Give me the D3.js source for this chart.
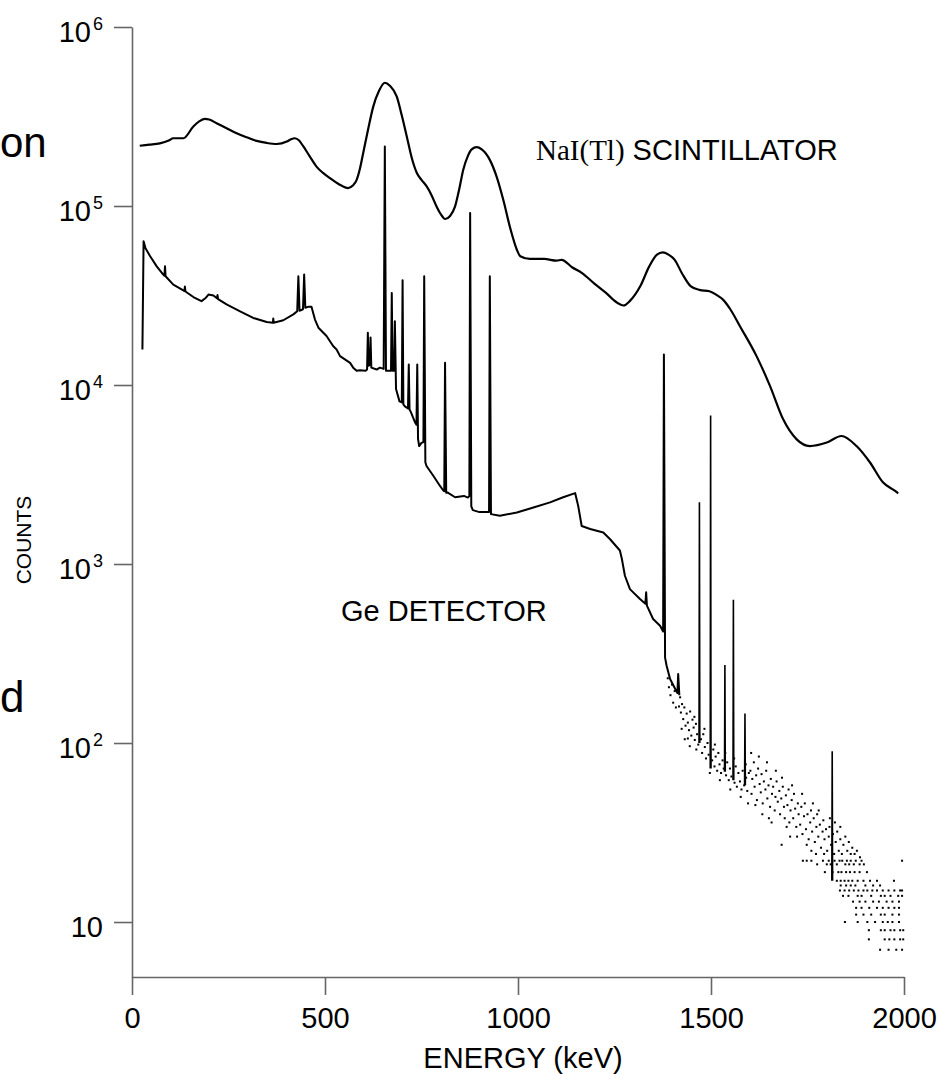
<!DOCTYPE html>
<html>
<head>
<meta charset="utf-8">
<script src="https://cdn.jsdelivr.net/npm/d3@7"></script>
<style>
  body { margin: 0; background: #fff; }
  text { font-family: 'Liberation Sans', Arial, sans-serif; fill: #000; }
</style>
</head>
<body>
<svg id="chart" width="938" height="1075"></svg>
<script>
// NaI(Tl) spectrum [keV, counts]
const naiSpectrum = [
  [20, 217000], [45, 220000], [72, 224000], [95, 232000], [107, 239000], [133, 239000],
  [159, 278000], [175, 298000], [189, 307000], [200, 304000], [219, 290000], [245, 272000],
  [271, 255000], [297, 242000], [323, 231000], [349, 225000], [375, 222000], [401, 229000],
  [412, 236000], [422, 239000], [433, 232000], [444, 215000], [460, 190000], [478, 166000],
  [495, 153000], [513, 143000], [537, 132000], [560, 126000], [572, 130000], [582, 140000],
  [590, 160000], [599, 198000], [612, 270000], [625, 359000], [640, 440000], [655, 488000],
  [668, 470000], [686, 408000], [699, 320000], [712, 244000], [725, 185000], [738, 153000],
  [750, 140000], [763, 129000], [776, 115000], [789, 99500], [800, 90000], [811, 84600],
  [824, 88000], [837, 99500], [848, 125000], [858, 159000], [870, 190000], [880, 207000],
  [893, 213000], [906, 207000], [927, 181000], [945, 145000], [962, 108000], [980, 75000],
  [997, 57000], [1006, 52400], [1031, 50600], [1068, 50600], [1100, 49500], [1113, 50000],
  [1140, 45500], [1166, 42200], [1197, 37000], [1228, 32700], [1255, 29000], [1273, 27800],
  [1290, 29500], [1317, 35700], [1340, 46000], [1360, 53500], [1375, 55100], [1390, 53500],
  [1406, 50000], [1425, 42000], [1447, 35700], [1470, 34000], [1496, 33400], [1515, 31800],
  [1531, 30000], [1550, 26500], [1575, 21300], [1618, 14500], [1653, 9860], [1687, 6430],
  [1722, 4970], [1756, 4560], [1800, 4770], [1838, 5190], [1877, 4560], [1912, 3690],
  [1946, 2850], [1977, 2560], [1985, 2480]
]

// Ge spectrum, continuum with its peaks [keV, counts]
const geSpectrum = [
  [27, 15800], [30, 63500], [35, 58000], [47, 52400], [64, 46000], [81, 41400], [84, 40800],
  [85.5, 46000], [87, 40500], [107, 36400], [133, 33800], [136, 33500], [137, 35500],
  [138.5, 33300], [159, 31000], [180, 29400], [190, 30500], [198, 32000], [211, 31600],
  [220, 30500], [221.5, 31800], [223, 30200], [245, 28200], [280, 25800], [314, 23700],
  [349, 22500], [365, 22300], [366, 23500], [367, 22300], [392, 23000], [418, 24800],
  [428, 25800], [431, 40500], [434, 26000], [443, 26500], [446, 41400], [449, 27000],
  [458, 27400], [465, 27400], [474, 23200], [483, 20900], [504, 18800], [521, 16500],
  [530, 15800], [539, 14500], [565, 13300], [573, 12500], [582, 12000], [591, 12100],
  [605, 12000], [609, 12200], [611, 19600], [613, 12800], [616, 13000], [618, 18400],
  [620, 12500], [634, 12200], [642, 12500], [652, 12300], [655, 215000], [658, 12000],
  [662, 12000], [671, 12000], [673, 32700], [675, 12000], [679, 12000], [681, 22700],
  [684, 9500], [693, 8100], [699, 8000], [701, 38500], [703, 7800], [707, 7600], [715, 7400],
  [717, 13000], [719, 7300], [722, 7100], [733, 6200], [737, 6000], [739, 13000], [741, 5000],
  [744, 4560], [750, 4750], [755, 4800], [757, 40500], [760, 3700], [763, 3530], [781, 3100],
  [798, 2730], [805, 2600], [809, 2550], [811, 13300], [814, 2500], [817, 2510], [837, 2360],
  [860, 2400], [870, 2350], [874, 2400], [876, 91400], [879, 2100], [883, 2000], [900, 1950],
  [920, 1950], [925, 1950], [927, 40500], [930, 1900], [953, 1860], [997, 1940], [1040, 2070],
  [1083, 2210], [1117, 2360], [1148, 2490], [1156, 2110], [1165, 1630], [1187, 1570],
  [1221, 1500], [1238, 1380], [1264, 1190], [1269, 1070], [1277, 860], [1290, 724],
  [1316, 637], [1330, 600], [1332, 695], [1334, 585], [1350, 493], [1368, 452], [1376, 420],
  [1378, 14800], [1381, 300], [1385, 270], [1394, 228], [1405, 205], [1413, 190], [1415, 243],
  [1418, 185]
]

// isolated Ge lines above 1450 keV
const gePeakE = [1470, 1499, 1536, 1558, 1588, 1814]
const gePeakTop = [2210, 6760, 273, 631, 146, 90]
const gePeakBase = [100, 72, 69, 62, 58, 17]

// sparse high-energy Ge channels [keV, counts]
const geScatter = [
  [1388, 230], [1391, 205], [1395, 185], [1399, 212], [1402, 168], [1406, 195], [1409, 158],
  [1415, 200], [1417, 160], [1420, 180], [1422, 148], [1424, 120], [1425, 165], [1428, 136],
  [1431, 158], [1432, 105], [1434, 125], [1437, 146], [1440, 130], [1440, 106], [1443, 118],
  [1445, 96], [1446, 150], [1449, 110], [1452, 135], [1455, 122], [1457, 140], [1458, 104],
  [1461, 128], [1462, 92], [1464, 112], [1467, 98],
  [1474, 105], [1477, 88], [1480, 112], [1483, 120], [1484, 95], [1487, 82], [1491, 100],
  [1494, 86], [1497, 68], [1503, 80], [1506, 92], [1509, 74], [1510, 98], [1512, 84],
  [1516, 70], [1519, 88], [1522, 76], [1523, 62], [1526, 68], [1530, 80], [1533, 72],
  [1537, 88], [1539, 66], [1542, 78], [1546, 62], [1549, 72], [1550, 55], [1553, 65],
  [1560, 82], [1561, 60], [1564, 74], [1567, 57], [1571, 68], [1575, 61], [1577, 50],
  [1579, 55], [1582, 70], [1586, 58], [1590, 76], [1591, 64], [1594, 54], [1596, 46],
  [1598, 68],
  [1602, 70], [1604, 88], [1605, 52], [1607, 63], [1611, 78], [1613, 57], [1615, 45],
  [1617, 66], [1619, 48], [1622, 72], [1624, 84], [1626, 59], [1629, 53], [1631, 67],
  [1633, 40], [1634, 46], [1637, 61], [1641, 55], [1643, 70], [1645, 78], [1646, 49],
  [1649, 58], [1650, 38], [1653, 44], [1655, 63], [1657, 36], [1658, 52], [1661, 57],
  [1665, 42], [1667, 50], [1668, 70], [1670, 61], [1673, 47], [1677, 54], [1679, 40],
  [1682, 49], [1683, 27], [1684, 64], [1686, 57], [1689, 44], [1691, 38], [1694, 51],
  [1696, 34], [1698, 45], [1701, 55], [1703, 36], [1705, 30], [1706, 42], [1709, 48],
  [1710, 58], [1713, 38], [1715, 52], [1718, 43], [1721, 34], [1723, 30], [1725, 46],
  [1727, 40], [1731, 35], [1734, 44], [1736, 52], [1737, 31], [1738, 22], [1741, 39],
  [1743, 46], [1746, 33], [1748, 27], [1750, 40], [1753, 29], [1757, 36], [1759, 42],
  [1760, 25], [1762, 32], [1764, 46], [1766, 38], [1769, 28], [1772, 24], [1773, 34],
  [1775, 40], [1778, 30], [1779, 42], [1782, 35], [1785, 26], [1789, 32], [1791, 37],
  [1793, 24], [1794, 29], [1798, 33], [1801, 25], [1805, 30], [1807, 34], [1808, 38],
  [1811, 27], [1816, 31], [1819, 24], [1821, 36], [1823, 28], [1827, 32], [1831, 25],
  [1835, 29], [1835, 34], [1839, 24], [1843, 27], [1848, 30], [1853, 25], [1857, 28],
  [1862, 24], [1866, 26], [1872, 24], [1878, 25], [1886, 23],
  [1748, 22], [1760, 22], [1790, 22], [1805, 22], [1820, 22], [1833, 22], [1840, 22],
  [1852, 22], [1862, 22], [1875, 22], [1890, 22], [1995, 22],
  [1775, 21], [1800, 21], [1810, 21], [1826, 21], [1848, 21], [1858, 21], [1870, 21],
  [1885, 21], [1896, 21],
  [1795, 19], [1815, 19], [1830, 19], [1838, 19], [1850, 19], [1860, 19], [1872, 19],
  [1885, 19], [1904, 19],
  [1826, 17], [1836, 17], [1846, 17], [1856, 17], [1866, 17], [1880, 17], [1895, 17],
  [1912, 17], [1930, 17], [1974, 17],
  [1836, 16], [1850, 16], [1862, 16], [1874, 16], [1900, 16], [1920, 16], [1938, 16],
  [1834, 15], [1846, 15], [1858, 15], [1870, 15], [1882, 15], [1895, 15], [1905, 15],
  [1918, 15], [1930, 15], [1945, 15], [1960, 15], [1975, 15], [1990, 15], [1995, 15],
  [1842, 14], [1856, 14], [1880, 14], [1890, 14], [1915, 14], [1940, 14], [1950, 14],
  [1965, 14], [1985, 14], [1995, 14],
  [1868, 13], [1885, 13], [1900, 13], [1920, 13], [1935, 13], [1955, 13], [1970, 13], [1987, 13],
  [1876, 12], [1890, 12], [1910, 12], [1930, 12], [1945, 12], [1960, 12], [1975, 12], [1987, 12],
  [1876, 11], [1895, 11], [1915, 11], [1940, 11], [1950, 11], [1970, 11], [1987, 11],
  [1847, 10], [1880, 10], [1905, 10], [1925, 10], [1945, 10], [1958, 10], [1970, 10], [1987, 10],
  [1909, 9], [1940, 9], [1950, 9], [1965, 9], [1975, 9], [1990, 9], [1998, 9],
  [1909, 8], [1950, 8], [1962, 8], [1975, 8], [1990, 8], [1998, 8],
  [1938, 7], [1960, 7], [1980, 7], [1995, 7]
]

const xTicks = [0, 500, 1000, 1500, 2000]
const yTicks = [10, 100, 1000, 10000, 100000, 1000000]

let svg = d3.select('#chart')
// scales
let x = d3.scaleLinear().domain([0, 2000]).range([132, 904])
let y = d3.scaleLog().domain([4.93, 1e6]).range([977, 27])

// axes
let yAxis = svg.append('g').attr('transform', 'translate(132,0)')
  .call(d3.axisLeft(y).tickValues(yTicks).tickSize(18).tickSizeOuter(0).tickFormat(''))
let xAxis = svg.append('g').attr('transform', 'translate(0,977)')
  .call(d3.axisBottom(x).tickValues(xTicks).tickSize(18).tickSizeOuter(0).tickFormat(''))
svg.selectAll('.domain, .tick line').attr('stroke', '#666').attr('stroke-width', 1.6)

// y tick labels as powers of ten
yAxis.selectAll('.tick').append('text')
  .attr('x', -29).attr('y', 14).attr('text-anchor', 'end').attr('font-size', 29)
  .each(function (d) {
    let t = d3.select(this)
    let e = Math.round(Math.log10(d))
    t.append('tspan').text('10')
    if (e !== 1) {
      t.append('tspan').attr('dy', -12).attr('dx', 2).attr('font-size', 18).text(e)
    }
  })
xAxis.selectAll('.tick').append('text')
  .attr('y', 51).attr('text-anchor', 'middle').attr('font-size', 29)
  .text(d => d)

// axis titles
svg.append('text').attr('x', 523).attr('y', 1068).attr('text-anchor', 'middle')
  .attr('font-size', 29).text('ENERGY (keV)')
svg.append('text').attr('transform', 'translate(31,540) rotate(-90)')
  .attr('text-anchor', 'middle').attr('font-size', 21).text('COUNTS')

// spectra
let smooth = d3.line().x(d => x(d[0])).y(d => y(d[1])).curve(d3.curveMonotoneX)
let line = d3.line().x(d => x(d[0])).y(d => y(d[1]))
svg.append('path').datum(naiSpectrum).attr('d', smooth)
  .attr('fill', 'none').attr('stroke', '#000').attr('stroke-width', 2.2)
svg.append('path').datum(geSpectrum).attr('d', line)
  .attr('fill', 'none').attr('stroke', '#000').attr('stroke-width', 2)
  .attr('stroke-linejoin', 'round')
gePeakE.forEach((e, i) => {
  let seg = [[e - 1, gePeakBase[i]], [e, gePeakTop[i]], [e + 1, gePeakBase[i]]]
  svg.append('path').datum(seg).attr('d', line)
    .attr('fill', 'none').attr('stroke', '#000').attr('stroke-width', 1.6)
})
svg.append('g').selectAll('rect').data(geScatter).enter().append('rect')
  .attr('x', d => x(d[0]) - 1).attr('y', d => y(d[1]) - 1)
  .attr('width', 2).attr('height', 2).attr('fill', '#000')

// labels
let nai = svg.append('text').attr('x', 536).attr('y', 160).attr('font-size', 29)
nai.append('tspan').attr('font-family', "'Liberation Serif', 'DejaVu Serif', serif").text('NaI(Tl)')
nai.append('tspan').text(' SCINTILLATOR')
svg.append('text').attr('x', 341).attr('y', 621).attr('font-size', 29).text('Ge DETECTOR')

// word fragments at the left edge
svg.append('text').attr('x', 0).attr('y', 157).attr('font-size', 42).text('on')
svg.append('text').attr('x', 0).attr('y', 712).attr('font-size', 44).text('d')
</script>
</body>
</html>
